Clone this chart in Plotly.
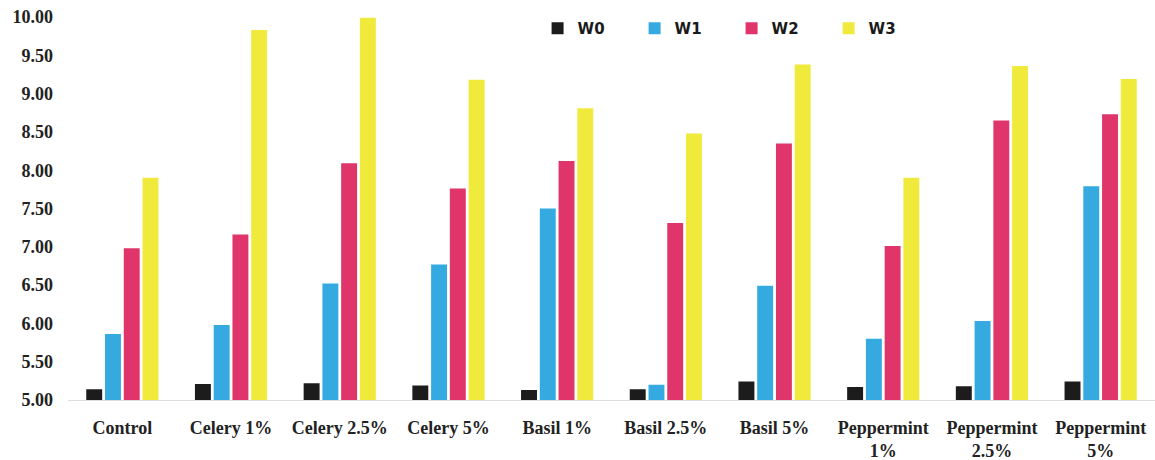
import plotly.graph_objects as go

categories = ["Control", "Celery 1%", "Celery 2.5%", "Celery 5%", "Basil 1%",
              "Basil 2.5%", "Basil 5%", "Peppermint<br>1%", "Peppermint<br>2.5%",
              "Peppermint<br>5%"]
w0 = [5.14, 5.21, 5.22, 5.19, 5.13, 5.14, 5.24, 5.17, 5.18, 5.24]
w1 = [5.86, 5.98, 6.52, 6.77, 7.50, 5.20, 6.49, 5.80, 6.03, 7.79]
w2 = [6.98, 7.16, 8.09, 7.76, 8.12, 7.31, 8.35, 7.01, 8.65, 8.73]
w3 = [7.90, 9.83, 9.99, 9.18, 8.81, 8.48, 9.38, 7.90, 9.36, 9.19]
series_names = ["W0", "W1", "W2", "W3"]
tick_vals = [5.0, 5.5, 6.0, 6.5, 7.0, 7.5, 8.0, 8.5, 9.0, 9.5, 10.0]

colors = ["#1c1c1c", "#35aae0", "#e0356a", "#f0ea3c"]

fig = go.Figure()
for name, vals, col in zip(series_names, [w0, w1, w2, w3], colors):
    fig.add_trace(go.Bar(name=name, x=categories, y=vals, marker_color=col,
                         marker_line_width=0))

fig.update_layout(
    width=1155, height=460,
    barmode="group", bargap=0.31, bargroupgap=0.15,
    plot_bgcolor="white", paper_bgcolor="white",
    margin=dict(l=68, r=0, t=17, b=60, autoexpand=False),
    legend=dict(orientation="h", x=0.432, xanchor="left", y=0.97, yanchor="middle",
                font=dict(family="DejaVu Sans", size=15, color="#1a1a1a", weight="bold"),
                entrywidth=52, entrywidthmode="pixels", bgcolor="rgba(0,0,0,0)"),
    font=dict(family="Liberation Serif", color="#222222"),
)
fig.update_xaxes(showgrid=False, showline=True, linecolor="#dedede", linewidth=1,
                 ticks="", ticklabelstandoff=11,
                 tickfont=dict(family="Liberation Serif", size=18, weight="bold",
                               color="#222222"))
fig.update_yaxes(range=[5, 10], showgrid=False, zeroline=False, showline=False,
                 tickvals=tick_vals, tickformat=".2f", ticks="", ticklabelstandoff=14,
                 tickfont=dict(family="Liberation Serif", size=18, weight="bold",
                               color="#222222"))

fig.write_html("out.html", config={"displayModeBar": False},
               post_script="document.body.style.margin='0';document.body.style.padding='0';")
